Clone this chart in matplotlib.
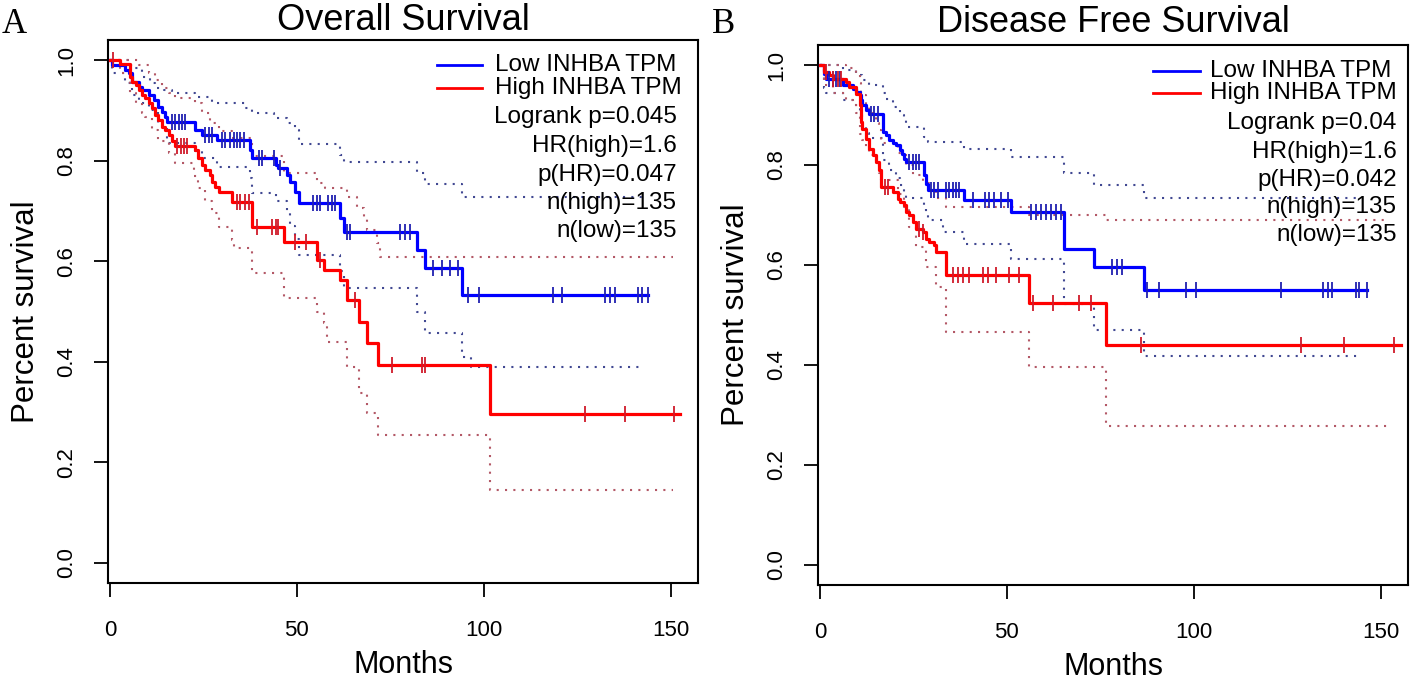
import numpy as np
import matplotlib
matplotlib.use('Agg')
import matplotlib.pyplot as plt

plt.rcParams['font.family'] = ['Liberation Sans', 'DejaVu Sans']

# ---- Overall survival (months, survival after each step) ----
os_low_t = [0, 0.6, 4.1, 5.0, 5.9, 7.7, 8.6, 10.4, 11.7, 13.0, 14.0, 14.8, 15.3, 22.9, 24.7,
            28.7, 37.6, 38.0, 44.3, 45.1, 47.4, 48.3, 49.6, 50.5, 61.6, 62.5, 82.1, 84.4, 94.2]
os_low_s = [1.0, 0.990, 0.980, 0.974, 0.957, 0.947, 0.940, 0.930, 0.920, 0.907, 0.897, 0.887, 0.877,
            0.861, 0.851, 0.841, 0.821, 0.805, 0.791, 0.785, 0.771, 0.758, 0.738, 0.715, 0.686, 0.659,
            0.622, 0.586, 0.533]
os_low_end = 144.0
os_low_cens = [16.6, 17.5, 18.4, 19.3, 20.2, 25.5, 26.4, 27.3, 30.0, 30.9, 32.2, 33.1, 34.0, 34.9, 35.8,
               39.8, 40.7, 43.8, 45.6, 54.4, 55.5, 56.3, 58.4, 59.5, 60.3, 63.4, 64.3, 77.5, 79.0, 80.2,
               86.5, 88.9, 91.1, 93.2, 95.9, 98.6, 118.6, 121.0, 132.5, 133.8, 135.2, 141.3, 142.4, 144.0]

os_high_t = [0, 2.8, 5.5, 5.9, 6.9, 7.7, 8.6, 9.5, 10.4, 11.3, 12.2, 13.0, 13.9, 14.8, 15.7, 16.6, 17.5,
             22.9, 23.7, 24.7, 25.5, 26.9, 27.3, 28.2, 29.1, 32.7, 38.0, 46.5, 55.4, 57.2, 61.6, 63.4,
             66.5, 68.8, 71.6, 101.6]
os_high_s = [1.0, 0.993, 0.967, 0.957, 0.950, 0.940, 0.930, 0.924, 0.914, 0.904, 0.891, 0.881, 0.867,
             0.861, 0.851, 0.840, 0.830, 0.821, 0.805, 0.791, 0.781, 0.771, 0.758, 0.748, 0.738, 0.718,
             0.669, 0.639, 0.602, 0.582, 0.563, 0.523, 0.480, 0.437, 0.394, 0.296]
os_high_end = 152.5
os_high_cens = [0.8, 18.0, 18.9, 19.7, 20.6, 34.0, 34.9, 36.2, 37.1, 39.4, 43.4, 44.3, 45.1, 49.6, 52.5,
                56.3, 65.6, 75.5, 83.5, 84.4, 127.0, 137.8, 150.9]

os_low_up_t = [0, 2.8, 5.0, 6.4, 8.6, 10.8, 12.2, 14.4, 16.6, 22.9, 27.3, 36.2, 38.0, 43.8, 47.4, 49.6,
               50.5, 61.6, 62.5, 82.1, 84.4, 94.2]
os_low_up_s = [1.0, 1.0, 0.990, 0.985, 0.967, 0.955, 0.944, 0.940, 0.934, 0.927, 0.914, 0.904, 0.894,
               0.884, 0.874, 0.861, 0.834, 0.811, 0.797, 0.775, 0.753, 0.728]
os_low_up_end = 143.0
os_low_lo_t = [0, 0.6, 4.1, 5.9, 7.7, 10.4, 13.0, 15.3, 22.9, 24.7, 28.7, 37.6, 38.0, 44.3, 47.4, 48.3,
               49.6, 50.5, 61.6, 62.5, 82.1, 84.4, 94.2, 96.5]
os_low_lo_s = [1.0, 0.975, 0.955, 0.930, 0.915, 0.900, 0.870, 0.835, 0.820, 0.805, 0.787, 0.765, 0.735,
               0.720, 0.695, 0.670, 0.645, 0.612, 0.580, 0.546, 0.500, 0.457, 0.410, 0.389]
os_low_lo_end = 142.5
os_high_up_t = [0, 5.5, 7.7, 10.4, 12.2, 13.9, 15.7, 17.5, 22.9, 24.7, 26.9, 29.1, 32.7, 38.0, 46.5,
                55.4, 57.6, 63.4, 66.1, 67.9, 68.8, 71.4, 72.3]
os_high_up_s = [1.0, 1.0, 0.990, 0.975, 0.960, 0.945, 0.935, 0.925, 0.915, 0.895, 0.875, 0.860, 0.845,
                0.810, 0.775, 0.755, 0.745, 0.728, 0.705, 0.688, 0.662, 0.636, 0.609]
os_high_up_end = 150.7
os_high_lo_t = [0, 2.8, 5.5, 6.9, 8.6, 9.5, 11.3, 13.0, 15.7, 17.5, 22.5, 23.7, 25.5, 27.3, 29.1, 32.7,
                33.1, 38.0, 46.5, 55.4, 57.2, 58.2, 63.4, 66.5, 68.8, 71.6, 101.6]
os_high_lo_s = [1.0, 0.975, 0.935, 0.915, 0.895, 0.887, 0.861, 0.840, 0.815, 0.795, 0.770, 0.745, 0.720,
                0.695, 0.669, 0.642, 0.626, 0.576, 0.526, 0.500, 0.477, 0.440, 0.390, 0.337, 0.298, 0.254,
                0.145]
os_high_lo_end = 150.7

# ---- Disease free survival ----
dfs_low_t = [0, 1.2, 1.7, 6.1, 8.8, 9.7, 10.6, 11.0, 11.4, 12.4, 13.2, 16.8, 17.7, 18.6, 19.5, 20.4,
             21.3, 22.1, 22.6, 23.0, 27.9, 28.4, 28.8, 38.6, 51.1, 65.4, 73.4, 86.8]
dfs_low_s = [1.0, 0.983, 0.973, 0.960, 0.953, 0.947, 0.940, 0.930, 0.920, 0.910, 0.903, 0.867, 0.860,
             0.850, 0.845, 0.840, 0.830, 0.823, 0.813, 0.807, 0.780, 0.763, 0.750, 0.730, 0.707, 0.633,
             0.597, 0.550]
dfs_low_end = 146.4
dfs_low_cens = [2.5, 3.5, 4.4, 5.3, 13.7, 14.6, 15.5, 23.9, 24.8, 25.7, 26.6, 29.7, 30.6, 31.5, 33.7,
                34.6, 35.5, 36.4, 37.3, 40.9, 44.2, 45.3, 46.7, 48.5, 50.3, 56.5, 57.8, 59.2, 60.5, 61.9,
                63.2, 64.5, 78.2, 79.6, 80.9, 87.6, 90.8, 97.9, 100.6, 123.3, 134.5, 135.8, 137.1, 143.4,
                144.2, 146.4]

dfs_high_t = [0, 1.2, 2.5, 3.4, 7.0, 7.9, 9.7, 10.6, 11.0, 11.4, 12.4, 13.2, 14.1, 15.0, 15.9, 16.4,
              19.5, 20.8, 21.3, 22.6, 23.0, 23.9, 24.8, 25.7, 27.5, 28.4, 29.3, 30.6, 31.1, 33.7, 56.0,
              76.6]
dfs_high_s = [1.0, 0.987, 0.980, 0.973, 0.967, 0.957, 0.943, 0.920, 0.887, 0.873, 0.853, 0.833, 0.820,
              0.807, 0.790, 0.757, 0.747, 0.733, 0.727, 0.720, 0.707, 0.700, 0.687, 0.673, 0.667, 0.653,
              0.647, 0.640, 0.627, 0.580, 0.525, 0.440]
dfs_high_end = 155.5
dfs_high_cens = [1.6, 3.4, 4.8, 5.7, 17.4, 18.1, 26.6, 27.5, 35.6, 36.9, 38.2, 40.0, 43.6, 44.9, 47.1,
                 50.7, 53.3, 56.9, 62.3, 69.4, 72.6, 86.0, 128.8, 140.1, 153.5]

dfs_low_up_t = [0, 6.1, 9.7, 11.4, 13.2, 16.8, 17.7, 19.5, 21.3, 22.6, 23.0, 27.9, 28.8, 38.6, 51.1,
                65.4, 73.4, 86.8]
dfs_low_up_s = [1.0, 0.990, 0.980, 0.970, 0.960, 0.945, 0.933, 0.917, 0.900, 0.890, 0.877, 0.857, 0.847,
                0.833, 0.817, 0.785, 0.760, 0.735]
dfs_low_up_end = 144.3
dfs_low_lo_t = [0, 1.2, 1.7, 6.1, 8.8, 10.6, 11.4, 12.4, 13.2, 16.8, 18.6, 20.4, 21.3, 22.6, 23.0, 27.9,
                28.4, 28.8, 32.8, 38.6, 51.1, 65.4, 73.4, 86.8]
dfs_low_lo_s = [1.0, 0.955, 0.945, 0.930, 0.920, 0.905, 0.880, 0.865, 0.855, 0.810, 0.790, 0.775, 0.760,
                0.745, 0.735, 0.715, 0.703, 0.690, 0.667, 0.643, 0.612, 0.523, 0.470, 0.418]
dfs_low_lo_end = 144.3
dfs_high_up_t = [0, 3.4, 7.0, 9.7, 10.6, 11.0, 12.4, 13.2, 15.0, 15.9, 16.4, 20.8, 23.0, 24.8, 27.5,
                 29.3, 31.1, 33.7, 56.0, 76.6]
dfs_high_up_s = [1.0, 1.0, 0.995, 0.985, 0.965, 0.940, 0.920, 0.905, 0.885, 0.870, 0.845, 0.825, 0.800,
                 0.780, 0.765, 0.750, 0.735, 0.717, 0.700, 0.690]
dfs_high_up_end = 151.4
dfs_high_lo_t = [0, 1.2, 3.4, 7.0, 9.7, 10.6, 11.4, 12.4, 13.2, 15.0, 15.9, 16.4, 20.8, 22.6, 23.9,
                 25.7, 28.4, 31.1, 33.7, 56.0, 76.6]
dfs_high_lo_s = [1.0, 0.960, 0.945, 0.930, 0.905, 0.863, 0.850, 0.837, 0.820, 0.803, 0.785, 0.770, 0.743,
                 0.717, 0.677, 0.637, 0.597, 0.557, 0.467, 0.397, 0.278]
dfs_high_lo_end = 152.0

os_stats = ['Logrank p=0.045', 'HR(high)=1.6', 'p(HR)=0.047', 'n(high)=135', 'n(low)=135']
dfs_stats = ['Logrank p=0.04', 'HR(high)=1.6', 'p(HR)=0.042', 'n(high)=135', 'n(low)=135']
legend_labels = ['Low INHBA TPM', 'High INHBA TPM']

BLUE = '#0000ff'
RED = '#ff0000'
BLUE_CI = '#414892'
RED_CI = '#b35866'


def step_line(ax, t, s, t_end, **kw):
    ax.step(list(t) + [t_end], list(s) + [s[-1]], where='post', **kw)


def km_curve(ax, t, s, t_end, cens, color, tick_color):
    step_line(ax, t, s, t_end, color=color, lw=2.3, zorder=4)
    idx = np.searchsorted(t, cens, side='right') - 1
    ax.plot(cens, np.array(s)[idx], ls='none', marker='|', ms=11, mew=1.3,
            color=tick_color, zorder=5)


def ci_line(ax, t, s, t_end, color):
    step_line(ax, t, s, t_end, color=color, lw=1.5, ls=(0, (1, 3)), zorder=3)


def style_axes(ax, title, pad):
    ax.set_xlim(-0.5, 157.3)
    ax.set_ylim(-0.04, 1.04)
    ax.set_xticks([0, 50, 100, 150])
    ax.set_yticks([0, 0.2, 0.4, 0.6, 0.8, 1.0])
    ax.set_yticklabels(['0.0', '0.2', '0.4', '0.6', '0.8', '1.0'], rotation=90, va='center')
    ax.tick_params(direction='out', length=10, width=1.3, labelsize=16)
    ax.tick_params(axis='x', pad=17)
    ax.tick_params(axis='y', pad=12)
    for sp in ax.spines.values():
        sp.set_linewidth(1.5)
    ax.set_xlabel('Months', fontsize=22, labelpad=6)
    ax.set_ylabel('Percent survival', fontsize=22.5, labelpad=11)
    ax.set_title(title, fontsize=26, pad=pad)


def annotate(ax, stats, lx0, lx1, tx, rx, ly, sy):
    for (lab, col, y) in zip(legend_labels, [BLUE, RED], ly):
        ax.plot([lx0, lx1], [y, y], transform=ax.transAxes, color=col, lw=2, clip_on=False)
        ax.text(tx, y, lab, transform=ax.transAxes, va='center', ha='left', fontsize=17.5)
    for txt, y in zip(stats, sy):
        ax.text(rx, y, txt, transform=ax.transAxes, va='center', ha='right', fontsize=17.5)


fig = plt.figure(figsize=(14.18, 6.81), dpi=100)
ax1 = fig.add_axes([108 / 1418, 1 - 583 / 681, 590 / 1418, 543 / 681])
ax2 = fig.add_axes([818 / 1418, 1 - 585 / 681, 590 / 1418, 540 / 681])

# Overall survival
ci_line(ax1, os_low_up_t, os_low_up_s, os_low_up_end, BLUE_CI)
ci_line(ax1, os_low_lo_t, os_low_lo_s, os_low_lo_end, BLUE_CI)
ci_line(ax1, os_high_up_t, os_high_up_s, os_high_up_end, RED_CI)
ci_line(ax1, os_high_lo_t, os_high_lo_s, os_high_lo_end, RED_CI)
km_curve(ax1, os_low_t, os_low_s, os_low_end, os_low_cens, BLUE, '#2020b0')
km_curve(ax1, os_high_t, os_high_s, os_high_end, os_high_cens, RED, '#d01a2a')
style_axes(ax1, 'Overall Survival', 7)
annotate(ax1, os_stats, 0.558, 0.634, 0.656, 0.964,
         [0.954, 0.912], [0.858, 0.805, 0.751, 0.700, 0.648])

# Disease free survival
ci_line(ax2, dfs_low_up_t, dfs_low_up_s, dfs_low_up_end, BLUE_CI)
ci_line(ax2, dfs_low_lo_t, dfs_low_lo_s, dfs_low_lo_end, BLUE_CI)
ci_line(ax2, dfs_high_up_t, dfs_high_up_s, dfs_high_up_end, RED_CI)
ci_line(ax2, dfs_high_lo_t, dfs_high_lo_s, dfs_high_lo_end, RED_CI)
km_curve(ax2, dfs_low_t, dfs_low_s, dfs_low_end, dfs_low_cens, BLUE, '#2020b0')
km_curve(ax2, dfs_high_t, dfs_high_s, dfs_high_end, dfs_high_cens, RED, '#d01a2a')
style_axes(ax2, 'Disease Free Survival', 9)
annotate(ax2, dfs_stats, 0.568, 0.647, 0.664, 0.981,
         [0.951, 0.911], [0.855, 0.802, 0.750, 0.700, 0.648])

fig.text(2 / 1418, 1 - 33 / 681, 'A', family='Liberation Serif', fontsize=25, va='baseline')
fig.text(712 / 1418, 1 - 33 / 681, 'B', family='Liberation Serif', fontsize=25, va='baseline')

fig.savefig('out.png', dpi=100)
